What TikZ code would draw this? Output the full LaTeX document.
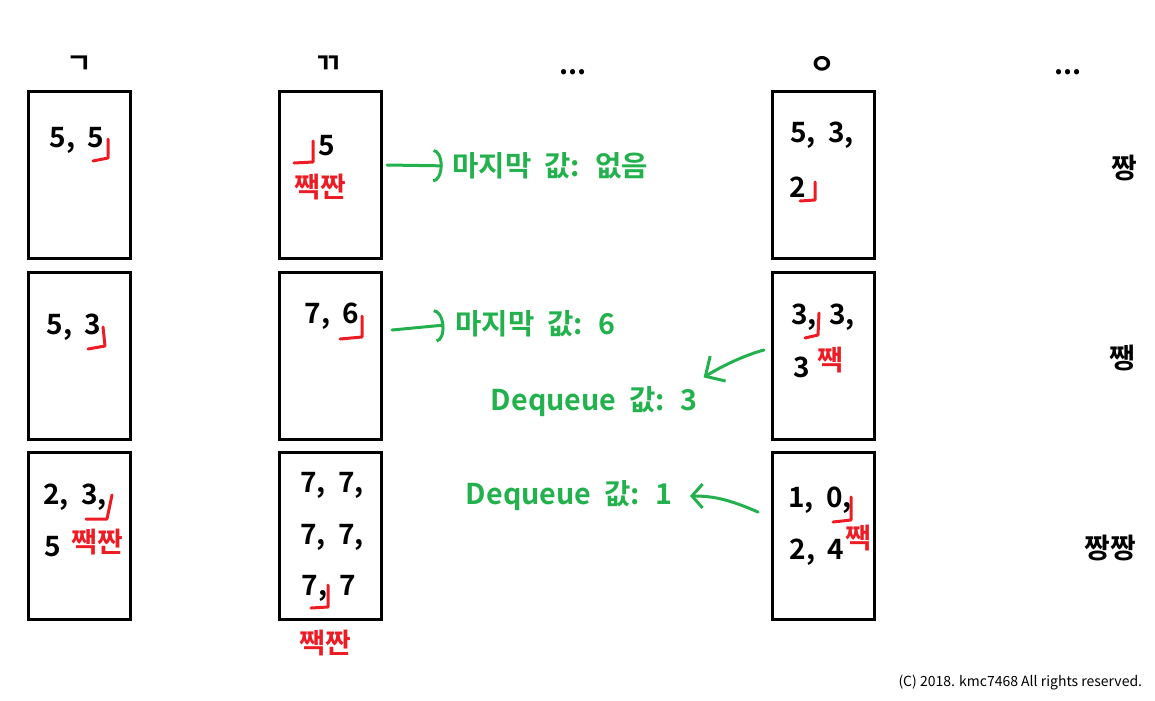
\documentclass[tikz,border=0pt]{standalone}
\usepackage{fontspec}
\setmainfont{Noto Sans CJK KR}
\newfontfamily\krbold{Noto Sans CJK KR Bold}[WordSpace=2]
\usetikzlibrary{arrows.meta}
\definecolor{pgreen}{RGB}{34,177,76}
\definecolor{pred}{RGB}{237,28,36}
\tikzset{every picture/.style={line width=0.75pt}}

\begin{document}
\begin{tikzpicture}[x=0.75pt,y=0.75pt,yscale=-1,xscale=1,
	cell/.style={line width=2.25pt},
	val/.style={font=\krbold\fontsize{21}{25}\selectfont, inner sep=0pt},
	redtxt/.style={val, text=pred},
	greentxt/.style={val, font=\krbold\fontsize{21.5}{26}\selectfont, text=pgreen},
	redmark/.style={draw=pred, line width=2.25pt, line cap=round, line join=round},
	hookarrow/.style={draw=pgreen, line width=2.25pt, line cap=round, -{Arc Barb[length=7pt,width=25pt]}},
	barbarrow/.style={draw=pgreen, line width=2.25pt, line cap=round, line join=round}]
	\useasboundingbox (0,0) rectangle (1155,700);

	%Shape: Rectangle [column g]
	\draw [cell] (28.5,91.5) -- (130.5,91.5) -- (130.5,258.5) -- (28.5,258.5) -- cycle ;
	\draw [cell] (28.5,272.5) -- (130.5,272.5) -- (130.5,439.5) -- (28.5,439.5) -- cycle ;
	\draw [cell] (28.5,452.5) -- (130.5,452.5) -- (130.5,619.5) -- (28.5,619.5) -- cycle ;
	%Shape: Rectangle [column kk]
	\draw [cell] (279.5,91.5) -- (381.5,91.5) -- (381.5,258.5) -- (279.5,258.5) -- cycle ;
	\draw [cell] (279.5,272.5) -- (381.5,272.5) -- (381.5,439.5) -- (279.5,439.5) -- cycle ;
	\draw [cell] (279.5,452.5) -- (381.5,452.5) -- (381.5,619.5) -- (279.5,619.5) -- cycle ;
	%Shape: Rectangle [column ng]
	\draw [cell] (772.5,91.5) -- (874.5,91.5) -- (874.5,258.5) -- (772.5,258.5) -- cycle ;
	\draw [cell] (772.5,272.5) -- (874.5,272.5) -- (874.5,439.5) -- (772.5,439.5) -- cycle ;
	\draw [cell] (772.5,452.5) -- (874.5,452.5) -- (874.5,619.5) -- (772.5,619.5) -- cycle ;

	%Red marks
	\draw [redmark] (108,139) -- (108,158) -- (93,161) ;
	\draw [redmark] (103,327) -- (105,346) -- (88,349) ;
	\draw [redmark] (112,495) -- (107,519) -- (86,519) ;
	\draw [redmark] (313,141) -- (313,162) -- (294,163) ;
	\draw [redmark] (362,316) -- (362,337) -- (340,339) ;
	\draw [redmark] (328,585) -- (328,607) -- (311,608) ;
	\draw [redmark] (815,182) -- (815,200) -- (800,201) ;
	\draw [redmark] (819,313) -- (818,335) -- (805,338) ;
	\draw [redmark] (851,497) -- (851,520) -- (833,522) ;

	% Text Node
	\node [val] (headg) at (79,65) {ㄱ};
	% Text Node
	\node [val] (headkk) at (328,65) {ㄲ};
	% Text Node
	\node [val] (dotsa) at (573,72) {...};
	% Text Node
	\node [val] (headng) at (822,65) {ㅇ};
	% Text Node
	\node [val] (dotsb) at (1068,72) {...};
	% Text Node
	\node [val] (rowa) at (1124,168) {짱};
	% Text Node
	\node [val] (rowb) at (1122,358) {쨍};
	% Text Node
	\node [val] (rowc) at (1110,548) {짱짱};

	% Text Node
	\node [val] (ga) at (77,140) {5, 5};
	% Text Node
	\node [val] (gb) at (74,327) {5, 3};
	% Text Node
	\node [val] (gc) at (75,497) {2, 3,};
	\node [val] (gcb) at (53,547) {5};
	\node [redtxt] (gcr) at (97,542) {짹짠};

	% Text Node
	\node [val] (kka) at (327,146) {5};
	\node [redtxt] (kkar) at (320,187) {짹짠};
	% Text Node
	\node [val] (kkb) at (332,316) {7, 6};
	% Text Node
	\node [val] (kkc) at (332,485) {7, 7,};
	\node [val] (kkcb) at (332,537) {7, 7,};
	\node [val] (kkcc) at (329,588) {7, 7};
	\node [redtxt] (kkcr) at (325,643) {짹짠};

	% Text Node
	\node [val] (nga) at (822,135) {5, 3,};
	\node [val] (ngab) at (798,187) {2};
	% Text Node
	\node [val] (ngb) at (823,317) {3, 3,};
	\node [val] (ngbb) at (802,367) {3};
	\node [redtxt] (ngbr) at (830,360) {짹};
	% Text Node
	\node [val] (ngc) at (820,500) {1, 0,};
	\node [val] (ngcb) at (817,552) {2, 4};
	\node [redtxt] (ngcr) at (858,538) {짹};

	% Text Node
	\node [greentxt, anchor=west] (lastnone) at (452,166) {마지막 값: 없음};
	% Text Node
	\node [greentxt, anchor=west] (lastsix) at (455,324) {마지막 값: 6};
	% Text Node
	\node [greentxt] (deqthree) at (594,402) {Dequeue 값: 3};
	% Text Node
	\node [greentxt] (deqone) at (569,496) {Dequeue 값: 1};

	%Green arrows
	\coordinate (a1) at (387,165);
	\draw [hookarrow, shorten >=7pt] (a1) -- (lastnone.west) ;
	\coordinate (a2) at (392,330);
	\draw [hookarrow, shorten >=8pt] (a2) -- (lastsix.west) ;
	\coordinate (a3) at (764,350);
	\draw [barbarrow, -{Straight Barb[length=11pt,width=22pt]}] (a3) .. controls (745,355) and (722,366) .. ([shift={(6,-9)}]deqthree.north east) ;
	\coordinate (a4) at (758,512);
	\draw [barbarrow, shorten >=13pt, -{Straight Barb[length=8pt,width=18pt]}] (a4) .. controls (730,500) and (715,496) .. (deqone.east) ;

	% Text Node
	\node [anchor=east, font=\fontsize{10.5}{12}\selectfont] (copy) at (1147,683) {(C) 2018. kmc7468 All rights reserved.};

\end{tikzpicture}
\end{document}
